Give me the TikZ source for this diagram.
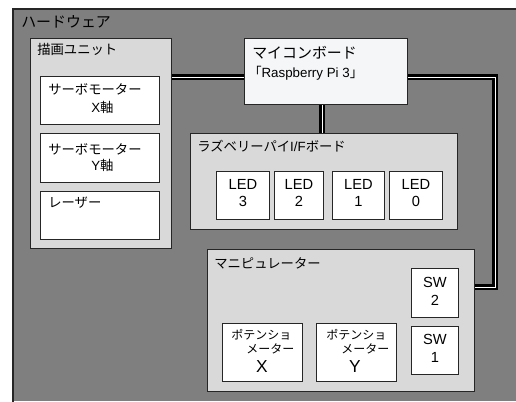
\documentclass[tikz,border=0pt]{standalone}
\usepackage{fontspec}
\setmainfont{Noto Sans CJK JP}
\newfontfamily\lat{Liberation Sans}
\usetikzlibrary{calc}
\definecolor{hwgray}{RGB}{127,127,127}
\definecolor{grpfill}{RGB}{217,217,217}
\definecolor{mcufill}{RGB}{244,246,248}
\definecolor{edge}{RGB}{38,38,38}
\tikzset{
  boxbase/.style={rectangle, draw=edge, line width=0.75pt, inner sep=0pt, anchor=north west},
  grp/.style={boxbase, fill=grpfill},
  leaf/.style={boxbase, fill=white},
  mcubox/.style={boxbase, fill=mcufill},
  wire/.style={draw=black, line width=1.8pt, double=white, double distance=0.5pt, line join=miter},
  lbl/.style={inner sep=0pt, anchor=west, font=\fontsize{10}{12}\selectfont},
  biglbl/.style={inner sep=0pt, anchor=west, font=\fontsize{11.2}{13}\selectfont},
  ctr/.style={inner sep=0pt, anchor=center, font=\lat\fontsize{11}{12}\selectfont},
  small/.style={inner sep=0pt, anchor=west, font=\fontsize{9}{11}\selectfont},
  axis/.style={inner sep=0pt, anchor=center, font=\lat\fontsize{13}{14}\selectfont}
}
\begin{document}
\begin{tikzpicture}[x=0.75pt,y=-0.75pt]
\useasboundingbox (0,0) rectangle (516,401);
\fill[white] (0,0) rectangle (516,401);
% hardware frame
\node[rectangle, fill=hwgray, inner sep=0pt, anchor=north west, minimum width=503*0.75pt, minimum height=392*0.75pt] (hw) at (13,9) {};
\draw[edge, line width=1.5pt] (hw.south west) -- (hw.north west) -- (hw.north east);
\node[biglbl] (hwl) at (21,22) {ハードウェア};
% drawing unit
\node[grp, minimum width=141*0.75pt, minimum height=210*0.75pt] (unit) at (30,38) {};
\node[lbl] (unitl) at (37,49) {描画ユニット};
\node[leaf, minimum width=119*0.75pt, minimum height=48*0.75pt] (sx) at (40,76) {};
\node[lbl] (sxa) at (48,89) {サーボモーター};
\node[lbl] (sxb) at (91,107) {{\lat X}軸};
\node[leaf, minimum width=119*0.75pt, minimum height=49*0.75pt] (sy) at (40,133) {};
\node[lbl] (sya) at (48,149) {サーボモーター};
\node[lbl] (syb) at (91,165) {{\lat Y}軸};
\node[leaf, minimum width=119*0.75pt, minimum height=48*0.75pt] (las) at (40,191) {};
\node[lbl] (lasl) at (48,203) {レーザー};
% microcontroller board
\node[mcubox, minimum width=163*0.75pt, minimum height=66*0.75pt] (mcu) at (244,38) {};
\node[biglbl] (mcua) at (252,53) {マイコンボード};
\node[inner sep=0pt, anchor=west, font=\fontsize{10}{12}\selectfont] (mcub) at (248,73) {「{\lat Raspberry Pi 3}」};
% raspberry pi I/F board
\node[grp, minimum width=267*0.75pt, minimum height=96*0.75pt] (ras) at (190,133) {};
\node[lbl] (rasl) at (197,146) {ラズベリーパイ{\lat I/F}ボード};
\node[leaf, minimum width=53*0.75pt, minimum height=48*0.75pt] (led3) at (216,171) {};
\node[leaf, minimum width=49*0.75pt, minimum height=48*0.75pt] (led2) at (274,171) {};
\node[leaf, minimum width=52*0.75pt, minimum height=48*0.75pt] (led1) at (332,171) {};
\node[leaf, minimum width=53*0.75pt, minimum height=48*0.75pt] (led0) at (389,171) {};
\node[ctr] (led3a) at (led3.center |- 0,184) {LED};
\node[ctr] (led3b) at (led3.center |- 0,201) {3};
\node[ctr] (led2a) at (led2.center |- 0,184) {LED};
\node[ctr] (led2b) at (led2.center |- 0,201) {2};
\node[ctr] (led1a) at (led1.center |- 0,184) {LED};
\node[ctr] (led1b) at (led1.center |- 0,201) {1};
\node[ctr] (led0a) at (led0.center |- 0,184) {LED};
\node[ctr] (led0b) at (led0.center |- 0,201) {0};
% manipulator
\node[grp, minimum width=267*0.75pt, minimum height=142*0.75pt] (mani) at (207,249) {};
\node[lbl] (manil) at (214,263) {マニピュレーター};
\node[leaf, minimum width=47*0.75pt, minimum height=49*0.75pt] (sw2) at (411,268) {};
\node[ctr] (sw2a) at (sw2.center |- 0,282) {SW};
\node[ctr] (sw2b) at (sw2.center |- 0,300) {2};
\node[leaf, minimum width=47*0.75pt, minimum height=48*0.75pt] (sw1) at (411,326) {};
\node[ctr] (sw1a) at (sw1.center |- 0,339) {SW};
\node[ctr] (sw1b) at (sw1.center |- 0,357) {1};
\node[leaf, minimum width=80*0.75pt, minimum height=58*0.75pt] (potx) at (222,323) {};
\node[small] (potxa) at (231,335) {ポテンショ};
\node[small] (potxb) at (246,349) {メーター};
\node[axis] (potxc) at (262,367) {X};
\node[leaf, minimum width=80*0.75pt, minimum height=58*0.75pt] (poty) at (316,323) {};
\node[small] (potya) at (326,335) {ポテンショ};
\node[small] (potyb) at (341,349) {メーター};
\node[axis] (potyc) at (355,367) {Y};
% connectors
\coordinate (wy) at (0,77);
\coordinate (vx) at (322,0);
\coordinate (rc) at (495,287);
\draw[wire] (unit.east |- wy) -- (mcu.west |- wy);
\draw[wire] (mcu.south -| vx) -- (ras.north -| vx);
\draw[wire] (mcu.east |- wy) -| (rc) -- (mani.east |- rc);
\end{tikzpicture}
\end{document}
